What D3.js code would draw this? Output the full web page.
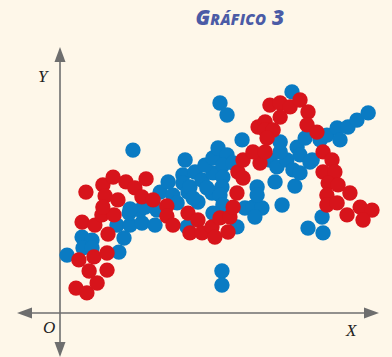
<!DOCTYPE html>
<html>
<head>
<meta charset="utf-8">
<script src="https://cdn.jsdelivr.net/npm/d3@7"></script>
<style>
  body { margin: 0; background: #fef7e9; }
  svg { display: block; }
</style>
</head>
<body>
<div id="container"></div>
<script>
/* DATA */
const title = "Gráfico 3";
const axisLabels = { x: "X", y: "Y", origin: "O" };

// blue series [x, y]
const bluePoints = [
  [0.22, 1.93], [0.69, 2.53], [1.00, 2.43], [0.72, 2.17], [1.00, 2.17],
  [1.78, 2.93], [2.19, 2.93], [2.00, 2.50], [1.84, 2.03], [2.16, 3.33],
  [2.56, 3.00], [2.50, 3.43], [2.28, 5.43], [2.66, 3.53], [3.03, 3.43],
  [2.97, 2.93], [2.19, 3.47], [3.13, 4.03], [3.53, 3.93], [3.38, 4.37],
  [3.84, 4.60], [4.22, 4.70], [3.84, 4.33], [4.00, 4.03], [3.66, 3.67],
  [4.31, 3.70], [4.75, 4.00], [3.91, 5.10], [4.06, 4.20], [4.16, 3.83],
  [4.44, 4.43], [4.59, 4.17], [4.78, 4.67], [4.53, 4.93], [4.78, 5.17],
  [4.94, 5.50], [5.22, 5.27], [5.09, 4.93], [5.41, 5.00], [5.09, 4.53],
  [5.06, 4.20], [5.00, 3.93], [5.09, 3.60], [4.78, 3.33], [3.97, 2.87],
  [5.53, 2.87], [5.00, 7.00], [5.22, 6.60], [5.69, 5.77], [7.25, 7.37],
  [5.78, 3.50], [6.03, 3.53], [6.31, 3.50], [6.09, 3.20], [6.16, 4.20],
  [6.16, 3.93], [6.72, 4.37], [6.94, 3.60], [7.34, 4.23], [6.56, 5.10],
  [6.78, 4.87], [7.09, 5.10], [6.88, 5.37], [6.88, 5.70], [7.41, 5.53],
  [7.50, 5.27], [7.66, 5.83], [7.88, 5.10], [7.28, 4.77], [7.50, 4.67],
  [7.81, 5.03], [8.13, 5.77], [8.34, 5.93], [8.66, 6.17], [9.00, 6.20],
  [9.28, 6.43], [9.63, 6.67], [8.75, 5.77], [8.19, 3.20], [7.75, 2.83],
  [8.22, 2.67], [5.06, 1.40], [5.06, 0.93]
];

// red series [x, y]
const redPoints = [
  [0.50, 0.83], [0.84, 0.67], [1.16, 1.00], [0.91, 1.40], [1.47, 1.43],
  [0.59, 1.77], [1.06, 1.87], [1.47, 2.00], [0.69, 3.03], [1.09, 2.93],
  [1.50, 2.63], [1.31, 3.27], [1.69, 3.27], [0.81, 4.03], [1.34, 4.27],
  [1.66, 4.53], [2.06, 4.37], [2.34, 4.17], [2.69, 4.47], [1.41, 3.90],
  [1.81, 3.77], [1.34, 3.53], [2.56, 3.87], [2.91, 3.77], [3.34, 3.57],
  [3.34, 3.23], [3.53, 2.93], [4.00, 3.33], [4.06, 2.67], [4.31, 3.10],
  [4.44, 2.67], [4.75, 2.87], [4.84, 2.53], [5.25, 2.70], [5.00, 3.17],
  [5.31, 3.20], [5.41, 3.53], [5.53, 4.00], [5.56, 4.70], [5.72, 4.50],
  [5.72, 5.10], [6.25, 5.00], [6.03, 5.37], [6.41, 5.37], [6.19, 6.20],
  [6.41, 6.37], [6.41, 6.10], [6.66, 6.10], [6.47, 5.83], [6.56, 6.93],
  [6.88, 7.00], [7.19, 6.87], [7.50, 7.10], [7.75, 6.70], [6.88, 6.53],
  [7.72, 6.27], [8.03, 6.03], [8.22, 5.37], [8.50, 5.10], [8.22, 4.70],
  [8.59, 4.70], [8.38, 4.33], [8.69, 4.27], [8.34, 3.93], [8.34, 3.60],
  [8.66, 3.67], [9.06, 4.00], [9.38, 3.53], [9.75, 3.43], [8.97, 3.27],
  [9.47, 3.10]
];

/* CONSTANTS */
const width = 392,
  height = 357,
  originX = 60,
  originY = 313,
  radius = 7.7,
  axisColor = "#6e6e6e";

const svg = d3.select("#container")
  .append("svg")
  .attr("width", width)
  .attr("height", height)
  .style("background-color", "#fef7e9");

/* SCALES */
const xScale = d3.scaleLinear()
  .domain([0, 10])
  .range([originX, originX + 320]);

const yScale = d3.scaleLinear()
  .domain([0, 10])
  .range([originY, originY - 300]);

/* TITLE */
svg.append("text")
  .attr("x", 240)
  .attr("y", 25)
  .attr("text-anchor", "middle")
  .style("font-family", "'Open Sans', sans-serif")
  .style("font-weight", 800)
  .style("font-style", "italic")
  .style("font-variant", "small-caps")
  .style("font-size", "21px")
  .style("letter-spacing", "0.3px")
  .style("fill", "#4b5ba6")
  .text(title);

/* AXES (plain lines with arrowheads) */
const axes = svg.append("g")
  .attr("stroke", axisColor)
  .attr("stroke-width", 1.6);

axes.append("line")
  .attr("x1", 30).attr("x2", 366)
  .attr("y1", originY).attr("y2", originY);

axes.append("line")
  .attr("x1", originX).attr("x2", originX)
  .attr("y1", 60).attr("y2", 344);

const arrows = [
  // tip, direction
  { x: 17, y: originY, dx: 1, dy: 0 },
  { x: 379, y: originY, dx: -1, dy: 0 },
  { x: originX, y: 47, dx: 0, dy: 1 },
  { x: originX, y: 357, dx: 0, dy: -1 }
];

svg.selectAll(".arrow")
  .data(arrows)
  .join("path")
  .attr("class", "arrow")
  .attr("d", d => {
    const len = 15, half = 5.5;
    const bx = d.x + d.dx * len, by = d.y + d.dy * len;
    const px = -d.dy * half, py = d.dx * half;
    return `M${d.x},${d.y}L${bx + px},${by + py}L${bx - px},${by - py}Z`;
  })
  .style("fill", axisColor);

/* AXIS LABELS */
const labelStyle = sel => sel
  .style("font-family", "'Liberation Serif', serif")
  .style("font-style", "italic")
  .style("font-size", "17px")
  .style("fill", "#222");

svg.append("text").attr("x", 38).attr("y", 82).text(axisLabels.y).call(labelStyle);
svg.append("text").attr("x", 43).attr("y", 333).text(axisLabels.origin).call(labelStyle);
svg.append("text").attr("x", 346).attr("y", 336).text(axisLabels.x).call(labelStyle);

/* POINTS */
svg.selectAll(".blue")
  .data(bluePoints)
  .join("circle")
  .attr("class", "blue")
  .attr("cx", d => xScale(d[0]))
  .attr("cy", d => yScale(d[1]))
  .attr("r", radius)
  .style("fill", "#0a7bc3");

svg.selectAll(".red")
  .data(redPoints)
  .join("circle")
  .attr("class", "red")
  .attr("cx", d => xScale(d[0]))
  .attr("cy", d => yScale(d[1]))
  .attr("r", radius)
  .style("fill", "#d7141b");
</script>
</body>
</html>
